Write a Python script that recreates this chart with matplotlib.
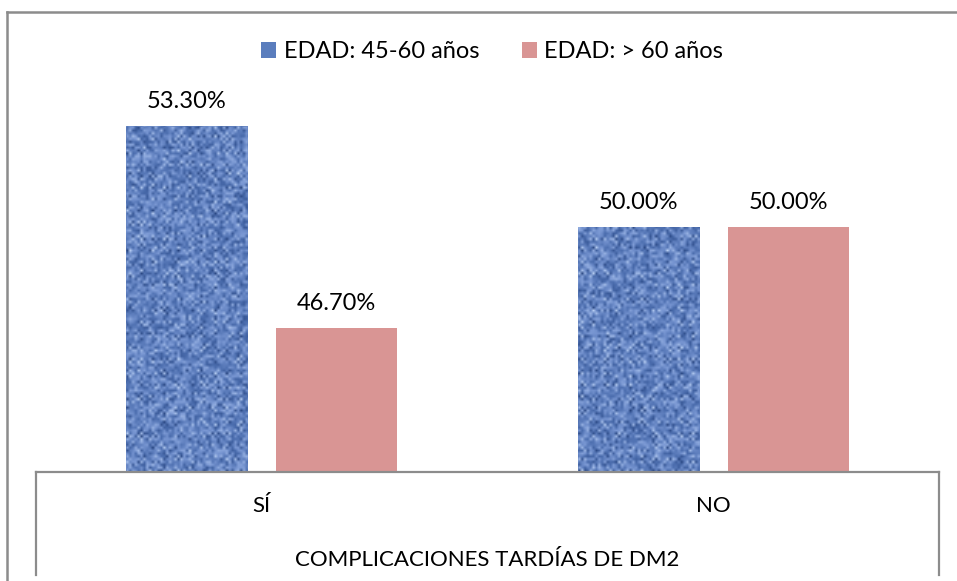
import matplotlib
matplotlib.use("Agg")
import matplotlib.pyplot as plt
import numpy as np
from matplotlib.colors import LinearSegmentedColormap
from matplotlib.lines import Line2D
from matplotlib.patches import Patch

# data
categories = ['SÍ', 'NO']
series_names = ['EDAD: 45-60 años', 'EDAD: > 60 años']
edad_45_60 = [53.3, 50.0]
edad_60_mas = [46.7, 50.0]
axis_title = 'COMPLICACIONES TARDÍAS DE DM2'

plt.rcParams['font.family'] = ['Lato', 'DejaVu Sans']
fs = 16

fig = plt.figure(figsize=(9.57, 5.81), dpi=100)
ax = fig.add_axes([36/957, 1 - 472/581, (939 - 36)/957, (472 - 43.6)/581])

x = np.arange(len(categories))
bar_width = 0.268
offset = 0.166

blue_bars = ax.bar(x - offset, edad_45_60, width=bar_width,
                   color='#5a7dbd', label=series_names[0], zorder=2)
pink_bars = ax.bar(x + offset, edad_60_mas, width=bar_width,
                   color='#d99594', label=series_names[1], zorder=2)

ax.set_xlim(-0.5, 1.5)
ax.set_ylim(42, 56)

# denim-like texture on the blue bars (decoration only)
ii, jj = np.mgrid[0:150, 0:320]
h = np.sin(ii * 12.9898 + jj * 78.233) * 43758.5453
noise = h - np.floor(h)
weave = 0.5 + 0.5 * np.sin(ii * np.pi / 1.3) * np.sin(jj * np.pi / 1.3)
tex = 0.6 * noise + 0.4 * weave
denim = LinearSegmentedColormap.from_list('denim', ['#223f7a', '#4a6cad', '#7896d2', '#bcd2f5'])
for b in blue_bars:
    im = ax.imshow(tex, cmap=denim, extent=(-0.5, 1.5, 42, 56), aspect='auto',
                   interpolation='bilinear', zorder=3)
    im.set_clip_path(b)

# value labels
for bars, vals in [(blue_bars, edad_45_60), (pink_bars, edad_60_mas)]:
    ax.bar_label(bars, labels=['%.2f%%' % v for v in vals], padding=10, fontsize=17)

ax.set_xticks(x)
ax.set_xticklabels(categories, fontsize=fs)
ax.tick_params(axis='x', length=0, pad=17)
ax.set_yticks([])
ax.set_xlabel(axis_title, fontsize=fs, labelpad=25)
for s in ['top', 'right', 'left']:
    ax.spines[s].set_visible(False)
ax.spines['bottom'].set_color('#8c8c8c')
ax.spines['bottom'].set_linewidth(1.6)
ax.spines['bottom'].set_zorder(5)

# category table side lines
for xa in (0, 1):
    ax.add_line(Line2D([xa, xa], [0, -103/428], transform=ax.transAxes,
                       color='#8c8c8c', lw=1.6, clip_on=False))

# outer chart frame
fig.add_artist(Line2D([7/957, 7/957], [-0.1, 1 - 12/581], color='#8c8c8c', lw=1.8))
fig.add_artist(Line2D([7/957, 1.1], [1 - 12/581, 1 - 12/581], color='#8c8c8c', lw=1.8))

handles = [Patch(facecolor='#5a7dbd'), Patch(facecolor='#d99594')]
fig.legend(handles, series_names, loc='center', bbox_to_anchor=(492/957, 1 - 52/581),
           ncol=2, frameon=False, fontsize=17, handlelength=0.65, handleheight=0.65,
           handletextpad=0.3, columnspacing=1.8)

fig.savefig('out.png', dpi=100)
